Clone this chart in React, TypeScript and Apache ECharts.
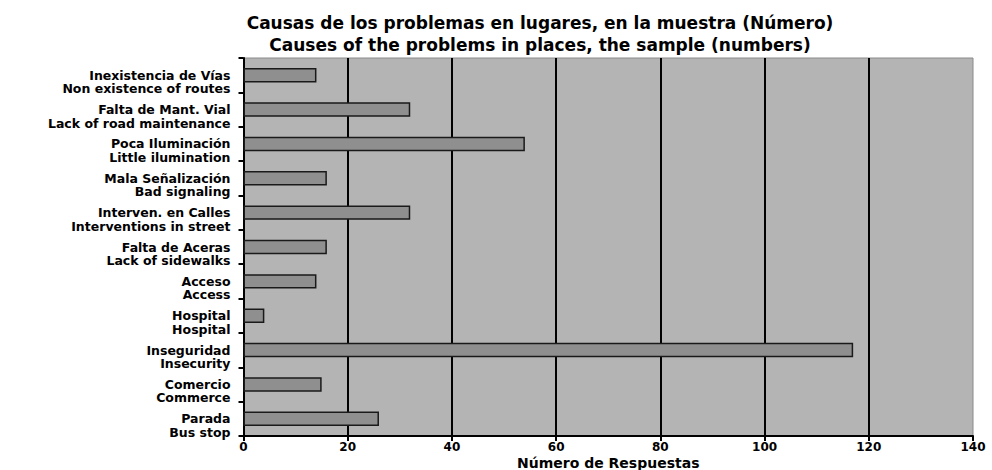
import React, { useEffect, useRef } from "react";
import * as echarts from "echarts";

const categoriesEs = [
  "Inexistencia de Vías",
  "Falta de Mant. Vial",
  "Poca Iluminación",
  "Mala Señalización",
  "Interven. en Calles",
  "Falta de Aceras",
  "Acceso",
  "Hospital",
  "Inseguridad",
  "Comercio",
  "Parada",
];
const categoriesEn = [
  "Non existence of routes",
  "Lack of road maintenance",
  "Little ilumination",
  "Bad signaling",
  "Interventions in street",
  "Lack of sidewalks",
  "Access",
  "Hospital",
  "Insecurity",
  "Commerce",
  "Bus stop",
];
const values = [14, 32, 54, 16, 32, 16, 14, 4, 117, 15, 26];
const titleLines = [
  "Causas de los problemas en lugares, en la muestra (Número)",
  "Causes of the problems in places, the sample (numbers)",
];
const xAxisName = "Número de Respuestas";

const FONT = "DejaVu Sans";

export default function App() {
  const ref = useRef<HTMLDivElement>(null);
  useEffect(() => {
    if (!ref.current) return;
    const chart = echarts.init(ref.current, null, { renderer: "svg" });
    const cats = categoriesEs.map((c, i) => "\n" + c + "\n" + categoriesEn[i]);
    chart.setOption({
      animation: false,
      backgroundColor: "#ffffff",
      title: {
        text: titleLines.join("\n"),
        left: 535,
        top: 7,
        textAlign: "center",
        textStyle: {
          fontFamily: FONT,
          fontWeight: "bold",
          fontSize: 17,
          lineHeight: 22,
          color: "#000",
        },
      },
      grid: {
        left: 243.5,
        right: 19,
        top: 58,
        bottom: 34,
        outerBoundsMode: "none",
        containLabel: false,
        show: true,
        backgroundColor: "#b4b4b4",
        borderColor: "#8a8a8a",
        borderWidth: 1,
      },
      xAxis: {
        type: "value",
        min: 0,
        max: 140,
        interval: 20,
        name: xAxisName,
        nameLocation: "middle",
        nameGap: 20,
        nameMoveOverlap: false,
        nameTextStyle: {
          fontFamily: FONT,
          fontWeight: "bold",
          fontSize: 14,
          lineHeight: 14,
          color: "#000",
        },
        axisLine: { show: true, lineStyle: { color: "#000", width: 2 } },
        axisTick: { show: true, length: 5, lineStyle: { color: "#000", width: 2 } },
        axisLabel: {
          fontFamily: FONT,
          fontWeight: "bold",
          fontSize: 12,
          lineHeight: 12,
          color: "#000",
          margin: 5,
        },
        splitLine: {
          show: true,
          showMinLine: false,
          showMaxLine: false,
          lineStyle: { color: "#000", width: 2 },
        },
      },
      yAxis: {
        type: "category",
        inverse: true,
        data: cats,
        axisLine: { show: true, lineStyle: { color: "#000", width: 2 } },
        axisTick: { show: true, length: 5, lineStyle: { color: "#000", width: 2 } },
        axisLabel: {
          interval: 0,
          fontFamily: FONT,
          fontWeight: "bold",
          fontSize: 12.5,
          lineHeight: 13.5,
          color: "#000",
          margin: 13,
          align: "right",
        },
        splitLine: { show: false },
      },
      series: [
        {
          type: "bar",
          data: values,
          barCategoryGap: "58%",
          itemStyle: {
            color: "#8f8f8f",
            borderColor: "#1a1a1a",
            borderWidth: 1.5,
          },
          z: 3,
        },
      ],
    });
    return () => chart.dispose();
  }, []);
  return (
    <div
      ref={ref}
      style={{ position: "absolute", left: 0, top: 0, width: 992, height: 470 }}
    />
  );
}
